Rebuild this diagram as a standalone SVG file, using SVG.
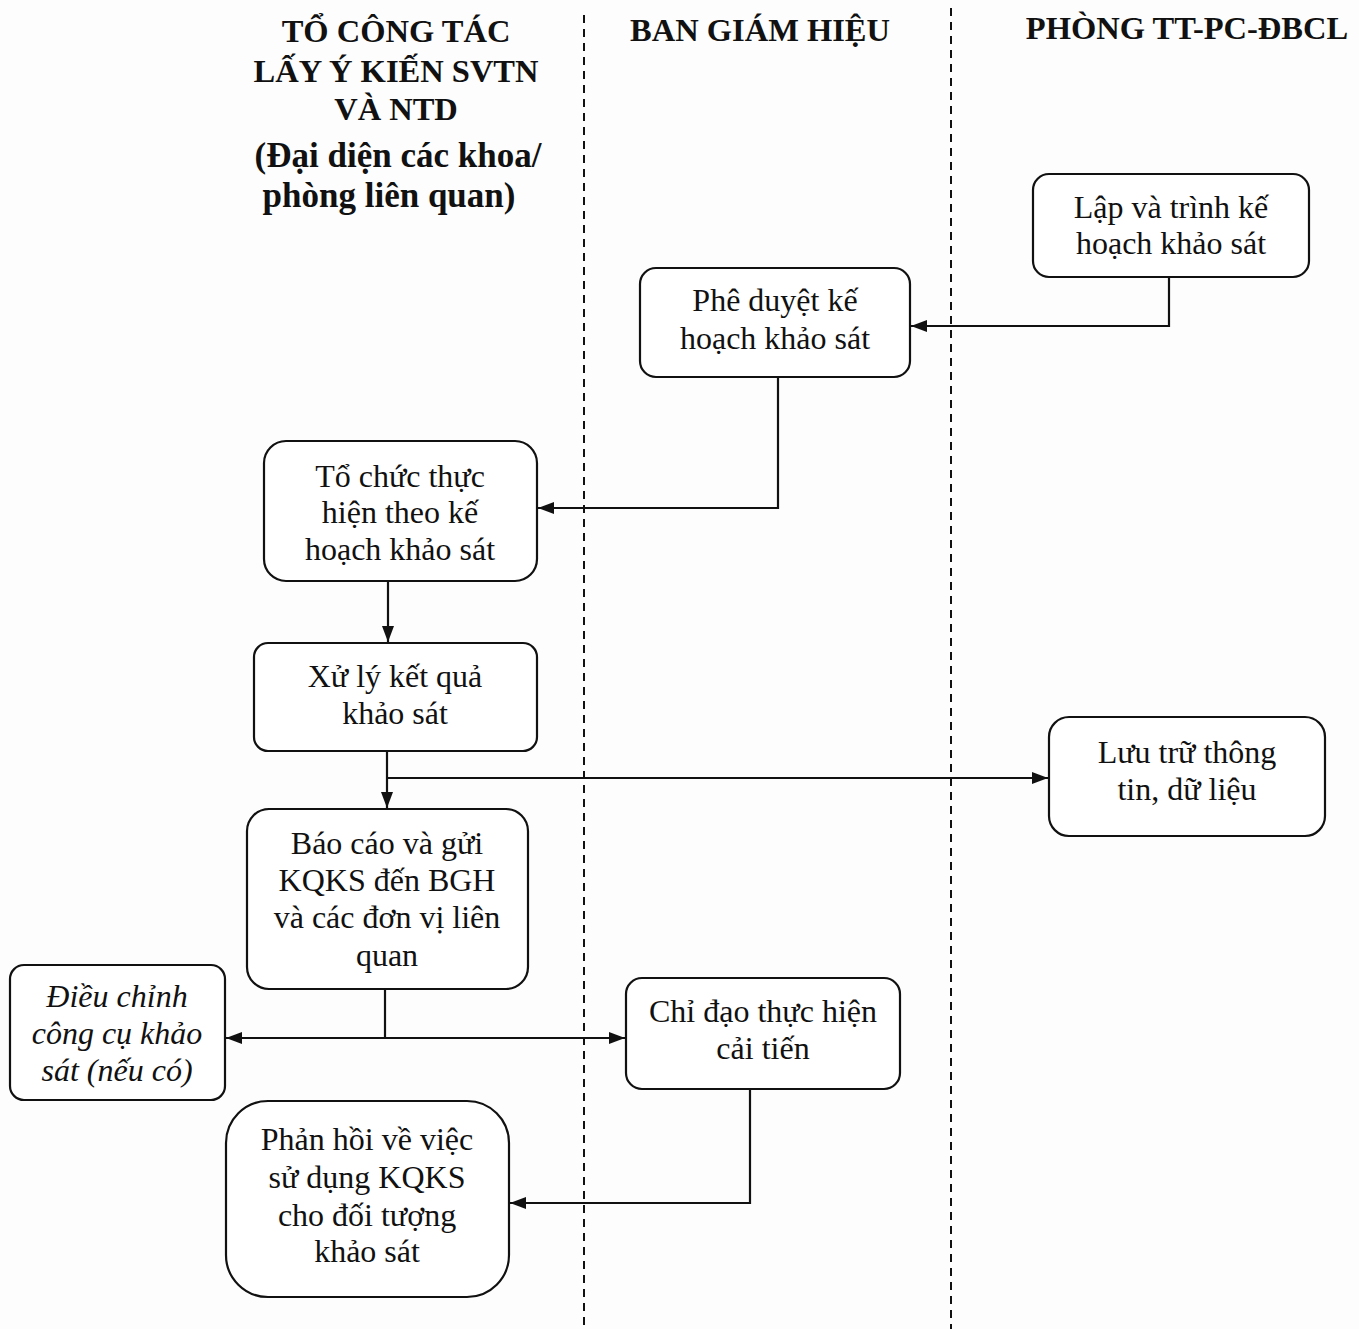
<svg xmlns="http://www.w3.org/2000/svg" width="1359" height="1329" viewBox="0 0 1359 1329">
<defs>
<marker id="arr" viewBox="0 0 16 12" refX="16" refY="6" markerWidth="16" markerHeight="12" markerUnits="userSpaceOnUse" orient="auto">
<path d="M0,0 L16,6 L0,12 Z" fill="#111"/>
</marker>
<style>
.box{fill:#fff;stroke:#111;stroke-width:2.2}
.t{font-family:"Liberation Serif","Times New Roman",serif;font-size:32px;fill:#111;text-anchor:middle}
.it{font-style:italic}
.h{font-family:"Liberation Serif","Times New Roman",serif;font-size:32.5px;font-weight:bold;fill:#111;text-anchor:middle}
.hl{font-size:35px}
.lane{stroke:#111;stroke-width:2;stroke-dasharray:8 6;fill:none}
.c{stroke:#111;stroke-width:2.2;fill:none}
</style>
</defs>
<rect width="1359" height="1329" fill="#fdfdfd"/>
<g id="lanes">
<line class="lane" x1="584" y1="15" x2="584" y2="1329"/>
<line class="lane" x1="951" y1="8" x2="951" y2="1329"/>
</g>
<g id="headers">
<text class="h" x="396" y="42">TỔ CÔNG TÁC</text>
<text class="h" x="396" y="82">LẤY Ý KIẾN SVTN</text>
<text class="h" x="396" y="120">VÀ NTD</text>
<text class="h hl" x="398" y="167">(Đại diện các khoa/</text>
<text class="h hl" x="389" y="207">phòng liên quan)</text>
<text class="h" x="760" y="41">BAN GIÁM HIỆU</text>
<text class="h" x="1187" y="39">PHÒNG TT-PC-ĐBCL</text>
</g>
<g id="connectors">
<path class="c" d="M1169,277 V326 H911" marker-end="url(#arr)"/>
<path class="c" d="M778,377 V508 H538" marker-end="url(#arr)"/>
<path class="c" d="M388,581 V642" marker-end="url(#arr)"/>
<path class="c" d="M387,751 V808" marker-end="url(#arr)"/>
<path class="c" d="M387,778 H1048" marker-end="url(#arr)"/>
<path class="c" d="M385,989 V1038"/>
<path class="c" d="M385,1038 H226" marker-end="url(#arr)"/>
<path class="c" d="M385,1038 H625" marker-end="url(#arr)"/>
<path class="c" d="M750,1089 V1203 H510" marker-end="url(#arr)"/>
</g>
<g id="n1">
<rect class="box" x="1033" y="174" width="276" height="103" rx="16"/>
<text class="t" x="1171" y="218">Lập và trình kế</text>
<text class="t" x="1171" y="254">hoạch khảo sát</text>
</g>
<g id="n2">
<rect class="box" x="640" y="268" width="270" height="109" rx="16"/>
<text class="t" x="775" y="311">Phê duyệt kế</text>
<text class="t" x="775" y="349">hoạch khảo sát</text>
</g>
<g id="n3">
<rect class="box" x="264" y="441" width="273" height="140" rx="22"/>
<text class="t" x="400" y="487">Tổ chức thực</text>
<text class="t" x="400" y="523">hiện theo kế</text>
<text class="t" x="400" y="560">hoạch khảo sát</text>
</g>
<g id="n4">
<rect class="box" x="254" y="643" width="283" height="108" rx="14"/>
<text class="t" x="395" y="687">Xử lý kết quả</text>
<text class="t" x="395" y="724">khảo sát</text>
</g>
<g id="n5">
<rect class="box" x="1049" y="717" width="276" height="119" rx="20"/>
<text class="t" x="1187" y="763">Lưu trữ thông</text>
<text class="t" x="1187" y="800">tin, dữ liệu</text>
</g>
<g id="n6">
<rect class="box" x="247" y="809" width="281" height="180" rx="22"/>
<text class="t" x="387" y="854">Báo cáo và gửi</text>
<text class="t" x="387" y="891">KQKS đến BGH</text>
<text class="t" x="387" y="928">và các đơn vị liên</text>
<text class="t" x="387" y="966">quan</text>
</g>
<g id="n7">
<rect class="box" x="10" y="965" width="215" height="135" rx="14"/>
<text class="t it" x="117" y="1007">Điều chỉnh</text>
<text class="t it" x="117" y="1044">công cụ khảo</text>
<text class="t it" x="117" y="1081">sát (nếu có)</text>
</g>
<g id="n8">
<rect class="box" x="626" y="978" width="274" height="111" rx="16"/>
<text class="t" x="763" y="1022">Chỉ đạo thực hiện</text>
<text class="t" x="763" y="1059">cải tiến</text>
</g>
<g id="n9">
<rect class="box" x="226" y="1101" width="283" height="196" rx="42"/>
<text class="t" x="367" y="1150">Phản hồi về việc</text>
<text class="t" x="367" y="1188">sử dụng KQKS</text>
<text class="t" x="367" y="1226">cho đối tượng</text>
<text class="t" x="367" y="1262">khảo sát</text>
</g>
</svg>
